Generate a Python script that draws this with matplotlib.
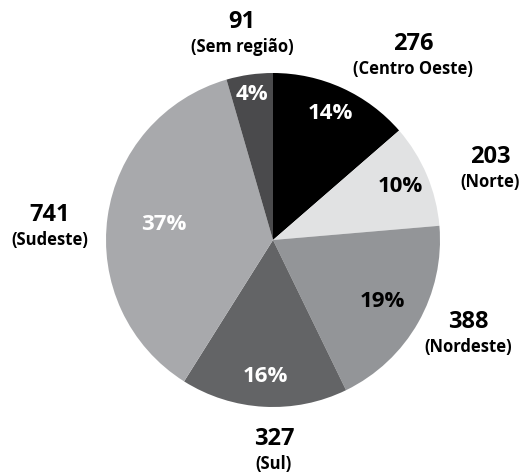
import numpy as np
import matplotlib
matplotlib.use('Agg')
import matplotlib.pyplot as plt

plt.rcParams['font.family'] = ['Open Sans', 'DejaVu Sans']

# ---- data ----------------------------------------------------------------
regions = ["Centro Oeste", "Norte", "Nordeste", "Sul", "Sudeste", "Sem região"]
counts  = [276, 203, 388, 327, 741, 91]
pcts    = ["14%", "10%", "19%", "16%", "37%", "4%"]

# ---- style ---------------------------------------------------------------
colors     = ["#000000", "#e1e2e3", "#939598", "#636466", "#a8a9ac", "#4a4a4c"]
pct_colors = ["white", "black", "black", "white", "white", "white"]
pct_dist   = [0.83, 0.83, 0.75, 0.82, 0.66, 0.88]

W, H = 521, 473
CX, CY, R = 273, 240, 167   # pie centre / radius in pixels

# outer label anchors (pixel centres of the count line)
lab_px = [(413, 44), (490, 157), (468, 322), (274, 439), (50, 215), (242, 22)]


def to_data(px, py):
    return (px - CX) / R, (CY - py) / R


fig = plt.figure(figsize=(W / 100, H / 100), dpi=100)
ax = fig.add_axes([0, 0, 1, 1])

wedges, _ = ax.pie(counts, colors=colors, startangle=90, counterclock=False,
                   radius=1.0, center=(0, 0), frame=True,
                   wedgeprops=dict(linewidth=0))
ax.set_xlim(-CX / R, (W - CX) / R)
ax.set_ylim(-(H - CY) / R, CY / R)
ax.axis('off')

for w, p, c, d in zip(wedges, pcts, pct_colors, pct_dist):
    ang = np.deg2rad((w.theta1 + w.theta2) / 2)
    ax.text(d * np.cos(ang), d * np.sin(ang), p, color=c,
            ha='center', va='center', fontsize=16, fontweight='bold')

for (px, py), n, name in zip(lab_px, counts, regions):
    x, y = to_data(px, py)
    ax.text(x, y, str(n), ha='center', va='center',
            fontsize=17, fontweight='bold')
    x2, y2 = to_data(px, py + 25)
    ax.text(x2, y2, f"({name})", ha='center', va='center',
            fontsize=12, fontweight='bold')

fig.savefig("out.png", dpi=100)
